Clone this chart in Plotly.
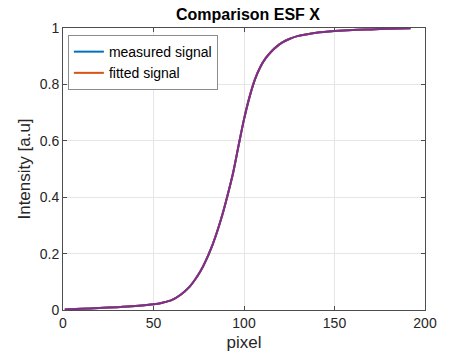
import plotly.graph_objects as go

pixel = [1, 10, 20, 30, 40, 50, 55, 60, 65, 70, 73, 76, 79, 82, 85, 88, 91, 94, 97,
         100, 103, 106, 109, 112, 115, 118, 121, 125, 130, 135, 140, 150, 160, 170, 180, 192]
measured_signal = [0.002, 0.004, 0.007, 0.010, 0.014, 0.020, 0.026, 0.035, 0.054, 0.083,
                   0.108, 0.138, 0.176, 0.221, 0.275, 0.337, 0.409, 0.487, 0.583,
                   0.676, 0.754, 0.817, 0.862, 0.893, 0.916, 0.934, 0.948, 0.961, 0.972,
                   0.978, 0.983, 0.989, 0.993, 0.995, 0.997, 0.999]
fitted_signal = list(measured_signal)

BLUE = "#0072BD"
ORANGE = "#D95319"
PURPLE = "#7E2F8E"
FONT = "Liberation Sans, Arial"

fig = go.Figure()
fig.add_trace(go.Scatter(x=pixel, y=measured_signal, mode="lines", name="measured signal",
                         line=dict(color=BLUE, width=2, shape="spline", smoothing=0.8)))
fig.add_trace(go.Scatter(x=pixel, y=fitted_signal, mode="lines", name="fitted signal",
                         line=dict(color=ORANGE, width=2, shape="spline", smoothing=0.8)))
fig.add_trace(go.Scatter(x=pixel, y=fitted_signal, mode="lines", showlegend=False,
                         line=dict(color=PURPLE, width=2, shape="spline", smoothing=0.8),
                         hoverinfo="skip"))

axis_common = dict(showline=True, linecolor="#4d4d4d", linewidth=1, mirror="ticks",
                   ticks="inside", ticklen=4, tickcolor="#4d4d4d",
                   showgrid=True, gridcolor="#e6e6e6", gridwidth=1, zeroline=False,
                   tickfont=dict(family=FONT, size=14, color="#262626"))

fig.update_layout(
    width=449, height=363,
    margin=dict(l=63, r=16, t=28, b=53),
    paper_bgcolor="white", plot_bgcolor="white",
    title=dict(text="<b>Comparison ESF X</b>", x=(63 + 433) / 2 / 449, xanchor="center",
               y=1 - 14 / 363, yanchor="middle",
               font=dict(family=FONT, size=16, color="black")),
    xaxis=dict(range=[0, 200], tickvals=[0, 50, 100, 150, 200],
               title=dict(text="pixel", standoff=6,
                          font=dict(family=FONT, size=17, color="#262626")),
               **axis_common),
    yaxis=dict(range=[0, 1], tickvals=[0, 0.2, 0.4, 0.6, 0.8, 1],
               ticktext=["0", "0.2", "0.4", "0.6", "0.8", "1"],
               title=dict(text="Intensity [a.u]", standoff=4,
                          font=dict(family=FONT, size=17, color="#262626")),
               **axis_common),
    legend=dict(x=0.0135, y=0.975, xanchor="left", yanchor="top",
                bgcolor="white", bordercolor="#8c8c8c", borderwidth=1,
                font=dict(family=FONT, size=14, color="black"),
                tracegroupgap=0, itemwidth=30),
    showlegend=True,
)

fig.write_html("out.html")
